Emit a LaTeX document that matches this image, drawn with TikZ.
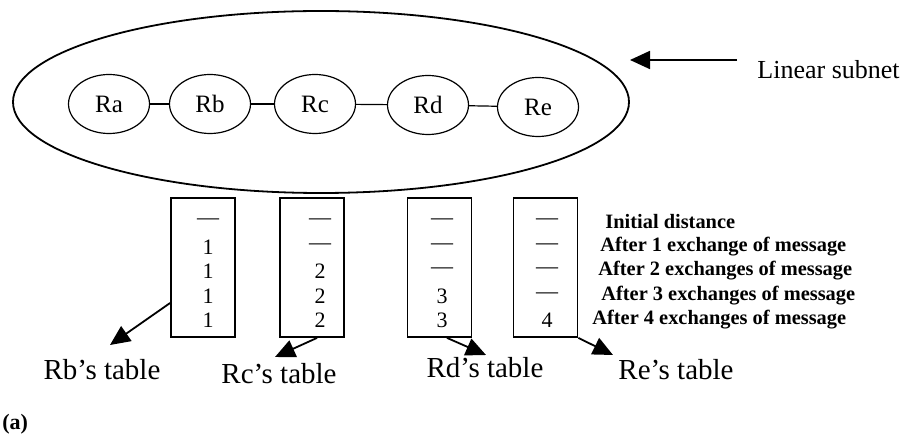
\documentclass[tikz,border=0pt]{standalone}
\usepackage{fontspec}
\setmainfont{Liberation Serif}
\usetikzlibrary{arrows.meta,shapes.geometric}

\begin{document}
\begin{tikzpicture}[x=0.5pt,y=-0.5pt,
	router/.style={draw,semithick,ellipse,minimum width=40.5pt,minimum height=29.5pt,inner sep=0pt,font=\fontsize{12.5}{14}\selectfont},
	dtable/.style={draw,line width=0.9pt,minimum width=32pt,minimum height=69.5pt,inner sep=0pt},
	entry/.style={font=\fontsize{11}{12}\selectfont},
	rowlabel/.style={anchor=west,inner sep=0pt,font=\bfseries\fontsize{10.2}{12}\selectfont},
	tname/.style={anchor=base,inner sep=0pt,font=\fontsize{14.5}{16}\selectfont},
	ptr/.style={-{Triangle[length=10pt,width=9pt]},line width=0.9pt}]
	\useasboundingbox (0,0) rectangle (906,438);
	% the subnet
	\draw[line width=0.9pt] (321,102) ellipse [x radius=154pt,y radius=45.5pt];
	\node[router] (ra) at (109,104) {Ra};
	\node[router] (rb) at (210,104) {Rb};
	\node[router] (rc) at (315,104) {Rc};
	\node[router] (rd) at (428,105) {Rd};
	\node[router] (re) at (538,107) {Re};
	\draw[semithick] (ra) -- (rb);
	\draw[semithick] (rb) -- (rc);
	\draw[semithick] (rc) -- (rd);
	\draw[semithick] (rd) -- (re);
	\node[anchor=west,inner sep=0pt,font=\fontsize{13}{15}\selectfont] (subnet) at (757,70) {Linear subnet};
	\coordinate (rim) at (630,60);
	\draw[ptr] (737,60) -- (rim);
	% distance tables
	\node[dtable] (tb) at (203,267.5) {};
	\node[dtable] (tc) at (312,267.5) {};
	\node[dtable] (td) at (439.5,267.5) {};
	\node[dtable] (te) at (545.5,267.5) {};
	\foreach \y/\b/\c/\d/\e/\lx/\txt [count=\i] in {
		222/\textemdash/\textemdash/\textemdash/\textemdash/605/Initial distance,
		247/1/\textemdash/\textemdash/\textemdash/600/After 1 exchange of message,
		271/1/2/\textemdash/\textemdash/598/After 2 exchanges of message,
		296/1/2/3/\textemdash/601/After 3 exchanges of message,
		320/1/2/3/4/592/After 4 exchanges of message}{
		\node[entry] (b\i) at (208,\y) {\b};
		\node[entry] (c\i) at (320,\y) {\c};
		\node[entry] (d\i) at (442,\y) {\d};
		\node[entry] (e\i) at (547,\y) {\e};
		\node[rowlabel] (l\i) at (\lx,\y) {\txt};
	}
	% table names
	\node[tname] (lb) at (102,380) {Rb's table};
	\node[tname] (lc) at (279,384) {Rc's table};
	\node[tname] (ld) at (485,378) {Rd's table};
	\node[tname] (le) at (676,380) {Re's table};
	\coordinate (bt) at (110,345);
	\coordinate (ct) at (275,357);
	\coordinate (dt) at (486,355);
	\coordinate (et) at (613,355);
	\draw[ptr] ([yshift=-17.75pt]tb.west) -- (bt);
	\draw[ptr] ([xshift=2.5pt]tc.south) -- (ct);
	\draw[ptr] ([xshift=3.75pt]td.south) -- (dt);
	\draw[ptr] (te.south east) -- (et);
	\node[anchor=west,inner sep=0pt,font=\bfseries\fontsize{11}{12}\selectfont] (cap) at (2,424) {(a)};
\end{tikzpicture}
\end{document}
